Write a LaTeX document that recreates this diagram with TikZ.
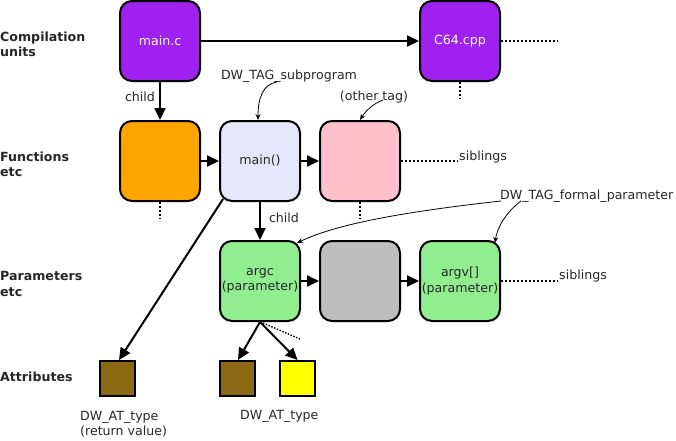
\documentclass[tikz,border=0pt]{standalone}
\usepackage{fontspec}
\setmainfont{DejaVu Sans}
\usetikzlibrary{arrows.meta,calc}
\definecolor{cupurple}{HTML}{A020F0}
\definecolor{fnorange}{HTML}{FFA500}
\definecolor{fnlav}{HTML}{E6E6FA}
\definecolor{fnpink}{HTML}{FFC0CB}
\definecolor{prgreen}{HTML}{90EE90}
\definecolor{prgray}{HTML}{BEBEBE}
\definecolor{atbrown}{HTML}{8B6914}
\definecolor{atyellow}{HTML}{FFFF00}
\begin{document}
\begin{tikzpicture}[x=1pt,y=-1pt,
  every node/.style={font=\fontsize{12.6}{15.5}\selectfont, text=black!85},
  diebox/.style={draw=black, line width=2pt, rounded corners=12pt, minimum width=80pt, minimum height=80pt, inner sep=0pt, align=center},
  attrbox/.style={draw=black, line width=2pt, minimum width=35pt, minimum height=35pt, inner sep=0pt},
  rowlabel/.style={anchor=west, align=left, font=\bfseries\fontsize{12.6}{15.5}\selectfont, inner sep=0pt},
  plain/.style={inner sep=0pt},
  mainarrow/.style={line width=2pt, -{Triangle[length=12pt,width=11pt]}},
  dotline/.style={line width=2pt, dash pattern=on 2pt off 2pt},
  annot/.style={line width=0.8pt, -{Stealth[length=6pt,width=5pt]}}
]
\useasboundingbox (0,0) rectangle (676,440);

% row labels
\node[rowlabel] (lcu) at (0,44.5) {Compilation\\units};
\node[rowlabel] (lfn) at (0,164.5) {Functions\\etc};
\node[rowlabel] (lpr) at (0,284) {Parameters\\etc};
\node[rowlabel] (lat) at (0,377) {Attributes};

% compilation units
\node[diebox, fill=cupurple, text=white] (mainc) at (160,41) {main.c};
\node[diebox, fill=cupurple, text=white] (c64) at (460,41) {C64.cpp};

% functions
\node[diebox, fill=fnorange] (orange) at (160,161) {};
\node[diebox, fill=fnlav] (mainf) at (260,161) {main()};
\node[diebox, fill=fnpink] (pink) at (360,161) {};

% parameters
\node[diebox, fill=prgreen] (argc) at (260,281) {argc\\(parameter)};
\node[diebox, fill=prgray] (grayp) at (360,281) {};
\node[diebox, fill=prgreen] (argv) at (460,281) {argv[]\\(parameter)};

% attributes
\node[attrbox, fill=atbrown] (ret) at (117.5,378.5) {};
\node[attrbox, fill=atbrown] (ptype) at (237.5,378.5) {};
\node[attrbox, fill=atyellow] (pyel) at (297.5,378.5) {};

% texts
\node[plain] (child1) at (140,97) {child};
\node[plain] (child2) at (284,218) {child};
\node[plain, anchor=west] (sib1) at (459,157) {siblings};
\node[plain, anchor=west] (sib2) at (559,276) {siblings};
\node[plain] (tagsub) at (289,76) {DW\_TAG\_subprogram};
\node[plain] (tagother) at (374,97) {(other tag)};
\node[plain, anchor=west] (tagformal) at (500,196) {DW\_TAG\_formal\_parameter};
\node[plain, anchor=west, align=left] (atret) at (80,424) {DW\_AT\_type\\(return value)};
\node[plain, anchor=west] (atpar) at (240,416) {DW\_AT\_type};

% main connectors
\draw[mainarrow] (mainc.east) -- (c64.west);
\draw[mainarrow] (mainc.south) -- (orange.north);
\draw[mainarrow] (orange.east) -- (mainf.west);
\draw[mainarrow] (mainf.east) -- (pink.west);
\draw[mainarrow] (mainf.south) -- (argc.north);
\draw[mainarrow] (argc.east) -- (grayp.west);
\draw[mainarrow] (grayp.east) -- (argv.west);
\draw[mainarrow] ($(mainf.south west)+(4,-3)$) -- ($(ret.north)+(1.5,0)$);
\draw[mainarrow] (argc.south) -- ($(ptype.north)+(0.5,0)$);
\draw[mainarrow] (argc.south) -- (pyel.north);

% dotted continuations
\coordinate (c64r) at (558,41);
\coordinate (c64d) at (460,99);
\coordinate (orad) at (160,219);
\coordinate (pinkd) at (360,219);
\coordinate (argcx) at (300,339);
\draw[dotline] (c64.east) -- (c64r);
\draw[dotline] (c64.south) -- (c64d);
\draw[dotline] (orange.south) -- (orad);
\draw[dotline] (pink.south) -- (pinkd);
\draw[dotline] (pink.east) -- ($(pink.east -| sib1.west)+(-1,0)$);
\draw[dotline] (argv.east) -- ($(argv.east -| sib2.west)+(-1,0)$);
\draw[line width=1.4pt, dash pattern=on 1.5pt off 1.5pt] ($(argc.south)+(3,1)$) -- (argcx);

% annotation curves
\coordinate (subs) at (277,82);
\coordinate (oths) at (383,100);
\coordinate (fps1) at (501,201);
\coordinate (fps2) at (521,201);
\draw[annot] (subs) .. controls (263,84) and (258,98) .. ($(mainf.north)+(-2,0)$);
\draw[annot] (oths) .. controls (372,104) and (365,112) .. ($(pink.north)+(0,0)$);
\draw[annot] (fps1) .. controls (420,210) and (340,222) .. ($(argc.north east)+(-4,3)$);
\draw[annot] (fps2) .. controls (506,212) and (497,228) .. ($(argv.north east)+(-6,3)$);
\end{tikzpicture}
\end{document}
